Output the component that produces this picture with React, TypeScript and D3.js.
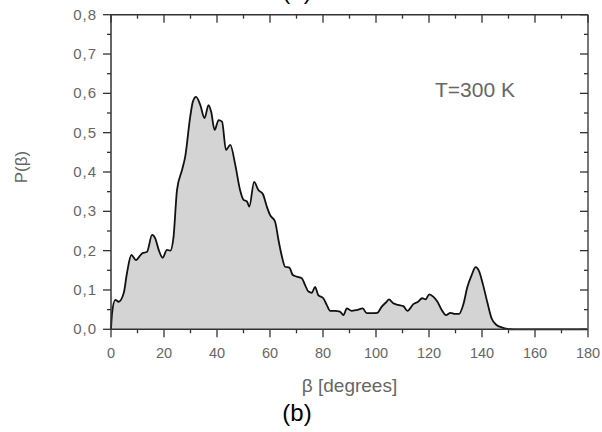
import React from "react";
import * as d3 from "d3";

const betaDeg = [
  0, 0.4, 1.6, 2.9, 4.8, 6.0, 7.7, 9.4, 11.7, 13.6, 15.5, 16.7, 18.0, 19.5, 21.1, 22.4, 23.6, 24.9,
  26.8, 28.0, 29.9, 30.9, 32.1, 33.7, 35.3, 36.8, 37.8, 39.1, 40.6, 41.9, 43.4, 45.0, 46.9, 48.7,
  50.0, 51.3, 52.2, 54.0, 55.6, 57.3, 58.8, 60.0, 61.9, 63.2, 64.5, 65.7, 67.3, 68.6, 70.1, 72.0,
  73.2, 74.5, 75.8, 77.0, 78.2, 80.1, 81.4, 82.7, 84.5, 86.4, 87.7, 89.0, 90.8, 92.7, 95.0, 96.5,
  98.4, 100.5, 102.1, 104.0, 104.9, 106.5, 108.4, 110.3, 111.9, 114.1, 115.9, 117.4, 118.7, 120.1,
  121.6, 123.2, 124.8, 126.4, 128.1, 129.8, 131.3, 132.9, 134.5, 136.1, 137.6, 138.8, 140.4, 142.1,
  143.6, 145.5, 147.4, 149.6, 152, 180,
];
const probability = [
  0.0, 0.041, 0.075, 0.07, 0.092, 0.142, 0.189, 0.176, 0.193, 0.197, 0.24, 0.231, 0.202, 0.182, 0.202,
  0.2, 0.235, 0.354, 0.405, 0.439, 0.541, 0.579, 0.591, 0.57, 0.537, 0.57, 0.553, 0.507, 0.532, 0.528,
  0.456, 0.469, 0.418, 0.354, 0.329, 0.325, 0.312, 0.375, 0.354, 0.344, 0.312, 0.291, 0.274, 0.227,
  0.185, 0.159, 0.157, 0.138, 0.134, 0.13, 0.113, 0.096, 0.093, 0.108, 0.087, 0.079, 0.062, 0.047,
  0.047, 0.045, 0.036, 0.053, 0.047, 0.049, 0.053, 0.041, 0.041, 0.042, 0.057, 0.07, 0.076, 0.066,
  0.062, 0.059, 0.047, 0.064, 0.07, 0.079, 0.076, 0.089, 0.083, 0.07, 0.049, 0.036, 0.042, 0.039,
  0.039, 0.062, 0.108, 0.138, 0.158, 0.149, 0.113, 0.066, 0.028, 0.011, 0.005, 0.001, 0, 0,
];
const xTicks = [0, 20, 40, 60, 80, 100, 120, 140, 160, 180];
const xMinorTicks = [10, 30, 50, 70, 90, 110, 130, 150, 170];
const yTicks = [0, 0.1, 0.2, 0.3, 0.4, 0.5, 0.6, 0.7, 0.8];
const yMinorTicks = [0.05, 0.15, 0.25, 0.35, 0.45, 0.55, 0.65, 0.75];
const xLabel = "β [degrees]";
const yLabel = "P(β)";
const annotation = "T=300 K";
const panelLabel = "(b)";
const prevPanelLabel = "(a)";

export default function App() {
  const W = 602, H = 432;
  const left = 111, right = 588, top = 14.7, bottom = 329.3;
  const x = d3.scaleLinear().domain([0, 180]).range([left, right]);
  const y = d3.scaleLinear().domain([0, 0.8]).range([bottom, top]);
  const pts = betaDeg.map((d, i) => [d, probability[i]] as [number, number]);
  const area = d3.area<[number, number]>().x(d => x(d[0])).y0(y(0)).y1(d => y(d[1])).curve(d3.curveMonotoneX);
  const line = d3.line<[number, number]>().x(d => x(d[0])).y(d => y(d[1])).curve(d3.curveMonotoneX);
  const fmt = (v: number) => v.toFixed(1).replace(".", ",");
  const axisColor = "#333";
  const textColor = "#666";
  const font = "Arial, 'Liberation Sans', sans-serif";
  const MAJ = 8, MIN = 4;
  return (
    <svg width={W} height={H} style={{ position: "absolute", left: 0, top: 0, background: "#fff" }} fontFamily={font}>
      <rect x={0} y={0} width={W} height={H} fill="#fff" />
      <text x={297} y={-1} textAnchor="middle" fontSize={24} fill="#000">{prevPanelLabel}</text>
      <path d={area(pts) || ""} fill="#d4d4d4" stroke="none" />
      <path d={line(pts) || ""} fill="none" stroke="#111" strokeWidth={1.8} />
      {/* frame */}
      <line x1={left} x2={right} y1={bottom} y2={bottom} stroke={axisColor} strokeWidth={1.5} />
      <line x1={left} x2={right} y1={top} y2={top} stroke={axisColor} strokeWidth={1.5} />
      <line x1={left} x2={left} y1={top} y2={bottom} stroke={axisColor} strokeWidth={1.5} />
      <line x1={right} x2={right} y1={top} y2={bottom} stroke="#777" strokeWidth={2} />
      {/* x ticks */}
      {xTicks.map(t => (
        <g key={"xt" + t}>
          <line x1={x(t)} x2={x(t)} y1={bottom} y2={bottom + MAJ} stroke={axisColor} strokeWidth={1.3} />
          <line x1={x(t)} x2={x(t)} y1={top} y2={top + MAJ} stroke={axisColor} strokeWidth={1.3} />
          <text x={x(t)} y={bottom + 29} textAnchor="middle" fontSize={14.5} fill={textColor}>{t}</text>
        </g>
      ))}
      {xMinorTicks.map(t => (
        <g key={"xm" + t}>
          <line x1={x(t)} x2={x(t)} y1={bottom} y2={bottom + MIN} stroke={axisColor} strokeWidth={1.3} />
          <line x1={x(t)} x2={x(t)} y1={top} y2={top + MIN} stroke={axisColor} strokeWidth={1.3} />
        </g>
      ))}
      {yTicks.map(t => (
        <g key={"yt" + t}>
          <line x1={left - MAJ} x2={left} y1={y(t)} y2={y(t)} stroke={axisColor} strokeWidth={1.3} />
          <line x1={right - MAJ} x2={right} y1={y(t)} y2={y(t)} stroke={axisColor} strokeWidth={1.3} />
          <text x={left - 14} y={y(t) + 5} textAnchor="end" fontSize={15} letterSpacing={1} fill={textColor}>{fmt(t)}</text>
        </g>
      ))}
      {yMinorTicks.map(t => (
        <g key={"ym" + t}>
          <line x1={left - MIN} x2={left} y1={y(t)} y2={y(t)} stroke={axisColor} strokeWidth={1.3} />
          <line x1={right - MIN} x2={right} y1={y(t)} y2={y(t)} stroke={axisColor} strokeWidth={1.3} />
        </g>
      ))}
      <text x={(left + right) / 2} y={392} textAnchor="middle" fontSize={19} fill={textColor}>{xLabel}</text>
      <text transform={`translate(27,167) rotate(-90)`} textAnchor="middle" fontSize={17} fill={textColor}>{yLabel}</text>
      <text x={435} y={97} fontSize={21} fill={textColor}>{annotation}</text>
      <text x={297} y={421} textAnchor="middle" fontSize={24} fill="#000">{panelLabel}</text>
    </svg>
  );
}
